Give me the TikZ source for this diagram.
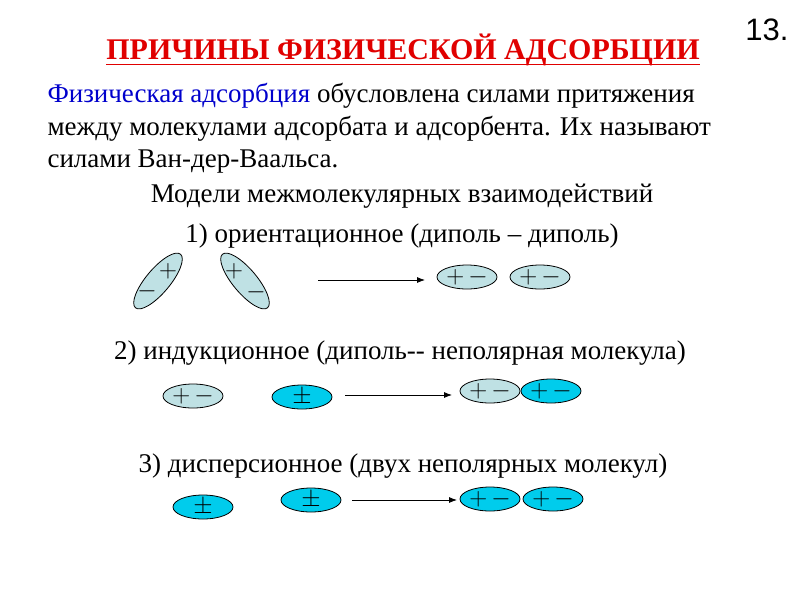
\documentclass[tikz,border=0pt]{standalone}
\usepackage{fontspec}
\usetikzlibrary{shapes.geometric,arrows.meta}
\setmainfont{Liberation Serif}
\newfontfamily\sansf{Liberation Sans}
\definecolor{gr}{HTML}{BFE1E4}
\definecolor{cy}{HTML}{00CCEC}
\definecolor{tred}{HTML}{E00000}
\definecolor{tblue}{HTML}{0000CC}
\begin{document}
\begin{tikzpicture}[x=1pt,y=-1pt,
 mol/.style={draw=black,line width=0.8pt,ellipse,minimum width=60pt,minimum height=24pt,inner sep=0pt,font=\fontsize{24}{24}\selectfont},
 g/.style={mol,fill=gr}, c/.style={mol,fill=cy},
 arr/.style={-{Latex[length=8pt,width=6pt]},line width=0.8pt},
 txt/.style={font=\fontsize{27}{27}\selectfont}]
\useasboundingbox (0,0) rectangle (800,600);
\node[font=\sansf\fontsize{31}{31}\selectfont] (num) at (767,30) {13.};
\node[font=\bfseries\fontsize{30}{30}\selectfont,text=tred,inner sep=0pt] (title) at (403,50) {ПРИЧИНЫ ФИЗИЧЕСКОЙ АДСОРБЦИИ};
\draw[tred,line width=1.6pt] ([yshift=-5pt]title.base west) -- ([yshift=-5pt]title.base east);
\node[txt,anchor=west] (p1) at (44,96) {\textcolor{tblue}{Физическая адсорбция} обусловлена силами притяжения};
\node[txt,anchor=west] (p2) at (44,129) {между молекулами адсорбата и адсорбента. Их называют};
\node[txt,anchor=west] (p3) at (44,162) {силами Ван-дер-Ваальса.};
\node[txt] (h0) at (402,196) {Модели межмолекулярных взаимодействий};
\node[txt] (h1) at (402,236) {1) ориентационное (диполь – диполь)};
\node[txt] (h2) at (400,353) {2) индукционное (диполь-{}- неполярная молекула)};
\node[txt] (h3) at (403,466) {3) дисперсионное (двух неполярных молекул)};
% row 1
\node[g,minimum width=70pt,minimum height=24pt,rotate=50] (a1) at (158,281) {};
\node at (168,271) {\fontsize{24}{24}\selectfont$+$};
\node at (147,291) {\fontsize{24}{24}\selectfont$-$};
\node[g,minimum width=70pt,minimum height=24pt,rotate=-50] (a2) at (245,281) {};
\node at (234,271) {\fontsize{24}{24}\selectfont$+$};
\node at (256,292) {\fontsize{24}{24}\selectfont$-$};
\coordinate (s1) at (318,280); \coordinate (e1) at (425,280);
\draw[arr] (s1) -- (e1);
\node[g] (a3) at (467,277) {$+\,-$};
\node[g] (a4) at (540,277) {$+\,-$};
% row 2
\node[g] (b1) at (193,396) {$+\,-$};
\node[c] (b2) at (302,397) {$\pm$};
\coordinate (s2) at (345,395); \coordinate (e2) at (452,395);
\draw[arr] (s2) -- (e2);
\node[g] (b3) at (490,391) {$+\,-$};
\node[c] (b4) at (551,391) {$+\,-$};
% row 3
\node[c] (d1) at (203,507) {$\pm$};
\node[c] (d2) at (311,500) {$\pm$};
\coordinate (s3) at (352,500); \coordinate (e3) at (457,500);
\draw[arr] (s3) -- (e3);
\node[c] (d3) at (490,499) {$+\,-$};
\node[c] (d4) at (553,499) {$+\,-$};
\end{tikzpicture}
\end{document}
